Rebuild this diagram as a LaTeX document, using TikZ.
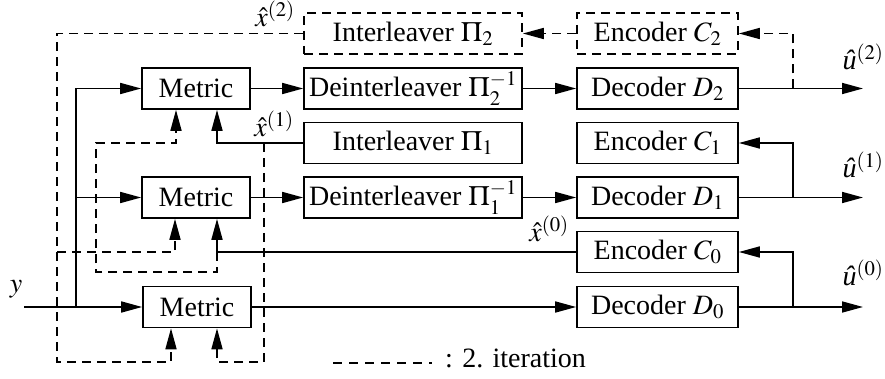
\documentclass[tikz,border=0pt]{standalone}
\usepackage{mathptmx}
\usepackage[no-math]{fontspec}
\setmainfont{Liberation Serif}
\usetikzlibrary{arrows.meta,calc}
\begin{document}
\begin{tikzpicture}[x=1pt,y=-1pt,
  font=\fontsize{28}{33}\selectfont,
  box/.style={draw,line width=1.7pt,minimum height=41pt,inner sep=0pt,anchor=center},
  dsh/.style={dash pattern=on 9pt off 6pt},
  dbox/.style={box,dsh},
  ln/.style={line width=1.7pt},
  arr/.style={ln,-{Triangle[length=21pt,width=11pt]}},
  lbl/.style={inner sep=0pt}]
\useasboundingbox (0,0) rectangle (885,379);
% boxes
\node[dbox,minimum width=218pt] (i2) at (413,33.5) {Interleaver $\Pi_2$};
\node[dbox,minimum width=161pt] (c2) at (657.5,33.5) {Encoder $C_2$};
\node[box,minimum width=108pt] (m1) at (196,88.5) {Metric};
\node[box,minimum width=218pt] (d2i) at (413,88.5) {Deinterleaver $\Pi_2^{-1}$};
\node[box,minimum width=161pt] (dec2) at (657.5,88.5) {Decoder $D_2$};
\node[box,minimum width=218pt] (i1) at (413,143) {Interleaver $\Pi_1$};
\node[box,minimum width=161pt] (c1) at (657.5,143) {Encoder $C_1$};
\node[box,minimum width=108pt] (m2) at (196,197.5) {Metric};
\node[box,minimum width=218pt] (d1i) at (413,197.5) {Deinterleaver $\Pi_1^{-1}$};
\node[box,minimum width=161pt] (dec1) at (657.5,197.5) {Decoder $D_1$};
\node[box,minimum width=161pt] (c0) at (657.5,252) {Encoder $C_0$};
\node[box,minimum width=108pt] (m3) at (197,307) {Metric};
\node[box,minimum width=161pt] (dec0) at (657.5,307) {Decoder $D_0$};
% coordinates
\coordinate (yin) at (24,307);
\coordinate (jy) at (76,307);
\coordinate (o2) at (863,88.5);
\coordinate (o1) at (863,197.5);
\coordinate (o0) at (863,307);
\coordinate (k2) at (793,88.5);
\coordinate (k1) at (793,197.5);
\coordinate (k0) at (793,307);
\coordinate (L2) at (57,362);
\coordinate (q) at (96,272);
\coordinate (R) at (264,362);
\coordinate (m1l) at ([xshift=-20pt]m1.south);
\coordinate (m1r) at ([xshift=21pt]m1.south);
\coordinate (m2l) at ([xshift=-21pt]m2.south);
\coordinate (m2r) at ([xshift=21pt]m2.south);
\coordinate (m3l) at ([xshift=-26pt]m3.south);
\coordinate (m3r) at ([xshift=20pt]m3.south);
% input
\draw[arr] (yin) -- (m3.west);
\draw[arr] (jy) |- (m1.west);
\draw[arr] (jy |- m2.west) -- (m2.west);
% forward
\draw[arr] (m1.east) -- (d2i.west);
\draw[arr] (d2i.east) -- (dec2.west);
\draw[arr] (m2.east) -- (d1i.west);
\draw[arr] (d1i.east) -- (dec1.west);
\draw[arr] (m3.east) -- (dec0.west);
% outputs
\draw[arr] (dec2.east) -- (o2);
\draw[arr] (dec1.east) -- (o1);
\draw[arr] (dec0.east) -- (o0);
% re-encoding
\draw[arr,dsh] (k2) -- (k2 |- c2.east) -- (c2.east);
\draw[arr,dsh] (c2.west) -- (i2.east);
\draw[arr] (k1) |- (c1.east);
\draw[arr] (k0) |- (c0.east);
% x^(2) feedback (2nd iteration)
\draw[arr,dsh] (i2.west) -| (L2) -- (L2 -| m3l) -- (m3l);
\draw[arr,dsh] (L2 |- c0.west) -| (m2l);
% x^(0)
\draw[arr] (c0.west) -| (m2r);
\draw[arr,dsh] (c0.west -| m2r) -- (m2r |- q) -- (q) |- (m1l |- i1.west) -- (m1l);
% x^(1)
\draw[arr] (i1.west) -| (m1r);
\draw[arr,dsh] (i1.west -| R) -- (R) -| (m3r);
% labels
\node[lbl] (lx2) at (275,14) {$\hat{x}^{(2)}$};
\node[lbl] (lx1) at (274,124) {$\hat{x}^{(1)}$};
\node[lbl] (lx0) at (549,229) {$\hat{x}^{(0)}$};
\node[lbl] (lu2) at (863,57) {\textit{û}$^{(2)}$};
\node[lbl] (lu1) at (863,165) {\textit{û}$^{(1)}$};
\node[lbl] (lu0) at (863,273) {\textit{û}$^{(0)}$};
\node[lbl] (ly) at (16,289) {$y$};
% legend
\coordinate (g1) at (333,363);
\coordinate (g2) at (432,363);
\draw[line width=1.2pt,dash pattern=on 9pt off 7pt] (g1) -- (g2);
\node[anchor=base west,inner sep=0pt] (leg) at (445,367) {: 2. iteration};
\end{tikzpicture}
\end{document}
